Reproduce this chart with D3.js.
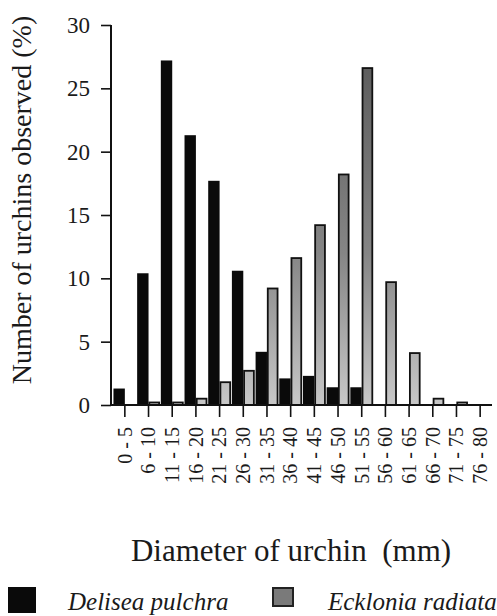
<!DOCTYPE html>
<html>
<head>
<meta charset="utf-8">
<script src="https://cdn.jsdelivr.net/npm/d3@7"></script>
<style>
  body { margin: 0; background: #fff; }
  svg text { font-family: "Liberation Serif", "Times New Roman", serif !important; fill: #1a1a1a; }
</style>
</head>
<body>
<div id="chart"></div>
<script>
var width = 497;
var height = 616;

// size classes (mm)
var classes = ["0 - 5", "6 - 10", "11 - 15", "16 - 20", "21 - 25", "26 - 30", "31 - 35", "36 - 40",
               "41 - 45", "46 - 50", "51 - 55", "56 - 60", "61 - 65", "66 - 70", "71 - 75", "76 - 80"];
// % of urchins observed on each alga
var delisea  = [1.3, 10.4, 27.2, 21.3, 17.7, 10.6, 4.2, 2.1, 2.3, 1.4, 1.4, 0, 0, 0, 0, 0];
var ecklonia = [0, 0.2, 0.2, 0.5, 1.8, 2.7, 9.2, 11.6, 14.2, 18.2, 26.6, 9.7, 4.1, 0.5, 0.2, 0];
var yTicks = [0, 5, 10, 15, 20, 25, 30];

var x0 = 113, x1 = 492, y0 = 405, y1 = 25;

var svg = d3.select("#chart").append("svg")
    .attr("width", width)
    .attr("height", height);

var defs = svg.append("defs");
var grad = defs.append("linearGradient")
    .attr("id", "grayFill")
    .attr("gradientUnits", "userSpaceOnUse")
    .attr("x1", 0).attr("y1", y1).attr("x2", 0).attr("y2", y0);
grad.append("stop").attr("offset", "0%").attr("stop-color", "#555");
grad.append("stop").attr("offset", "60%").attr("stop-color", "#858585");
grad.append("stop").attr("offset", "100%").attr("stop-color", "#c8c8c8");

var x = d3.scaleBand().domain(classes).range([x0, x1]).padding(0);
var sub = d3.scaleBand().domain(["d", "e"]).range([0, x.bandwidth()]).paddingOuter(0.04);
var y = d3.scaleLinear().domain([0, 30]).range([y0, y1]);

// bars
var groups = svg.append("g").selectAll("g")
    .data(classes)
    .enter().append("g")
    .attr("transform", function (d) { return "translate(" + x(d) + ",0)"; });

groups.append("rect")
    .attr("x", sub("d"))
    .attr("width", sub.bandwidth())
    .attr("y", function (d, i) { return y(delisea[i]); })
    .attr("height", function (d, i) { return y(0) - y(delisea[i]); })
    .attr("fill", "#0a0a0a");

groups.append("rect")
    .attr("x", sub("e") + 0.8)
    .attr("width", sub.bandwidth() - 1.6)
    .attr("y", function (d, i) { return y(ecklonia[i]); })
    .attr("height", function (d, i) { return y(0) - y(ecklonia[i]); })
    .attr("fill", "url(#grayFill)")
    .attr("stroke", "#111")
    .attr("stroke-width", 1.8)
    .style("display", function (d, i) { return ecklonia[i] > 0 ? null : "none"; });

// y axis
var yAxis = d3.axisLeft(y).tickValues(yTicks).tickSize(10).tickPadding(11);
var gy = svg.append("g").attr("transform", "translate(111,0)").call(yAxis)
    .attr("font-family", null).attr("font-size", null);
gy.select(".domain").attr("stroke", "#111").attr("stroke-width", 2).attr("d", "M0," + y1 + "V" + y0);
gy.selectAll(".tick line").attr("stroke", "#111").attr("stroke-width", 1.6);
gy.selectAll(".tick text").style("font-size", "23px");

// x axis, tick at centre of each bar pair
var xAxis = d3.axisBottom(x).tickSize(12).tickPadding(9);
var gx = svg.append("g").attr("transform", "translate(0," + y0 + ")").call(xAxis)
    .attr("font-family", null).attr("font-size", null);
gx.select(".domain").attr("stroke", "#111").attr("stroke-width", 2).attr("d", "M111,0H" + x1);
gx.selectAll(".tick line").attr("stroke", "#111").attr("stroke-width", 1.6);
gx.selectAll(".tick text")
    .style("font-size", "20px")
    .attr("text-anchor", "end")
    .attr("transform", "rotate(-90)")
    .attr("x", -22)
    .attr("y", 0)
    .attr("dy", "0.34em");

// titles
svg.append("text")
    .attr("transform", "translate(31,200) rotate(-90)")
    .attr("text-anchor", "middle")
    .style("font-size", "28px")
    .text("Number of urchins observed (%)");

svg.append("text")
    .attr("x", 291).attr("y", 561)
    .attr("text-anchor", "middle")
    .style("font-size", "31px")
    .style("white-space", "pre")
    .text("Diameter of urchin  (mm)");

// legend
svg.append("rect").attr("x", 8).attr("y", 587).attr("width", 28).attr("height", 26).attr("fill", "#0a0a0a");
svg.append("text").attr("x", 68).attr("y", 610).style("font-size", "25px").style("font-style", "italic")
    .text("Delisea pulchra");
svg.append("rect").attr("x", 273).attr("y", 588).attr("width", 20).attr("height", 18)
    .attr("fill", "#7a7a7a").attr("stroke", "#222").attr("stroke-width", 2);
svg.append("text").attr("x", 328).attr("y", 610).style("font-size", "25px").style("font-style", "italic")
    .text("Ecklonia radiata");
</script>
</body>
</html>
